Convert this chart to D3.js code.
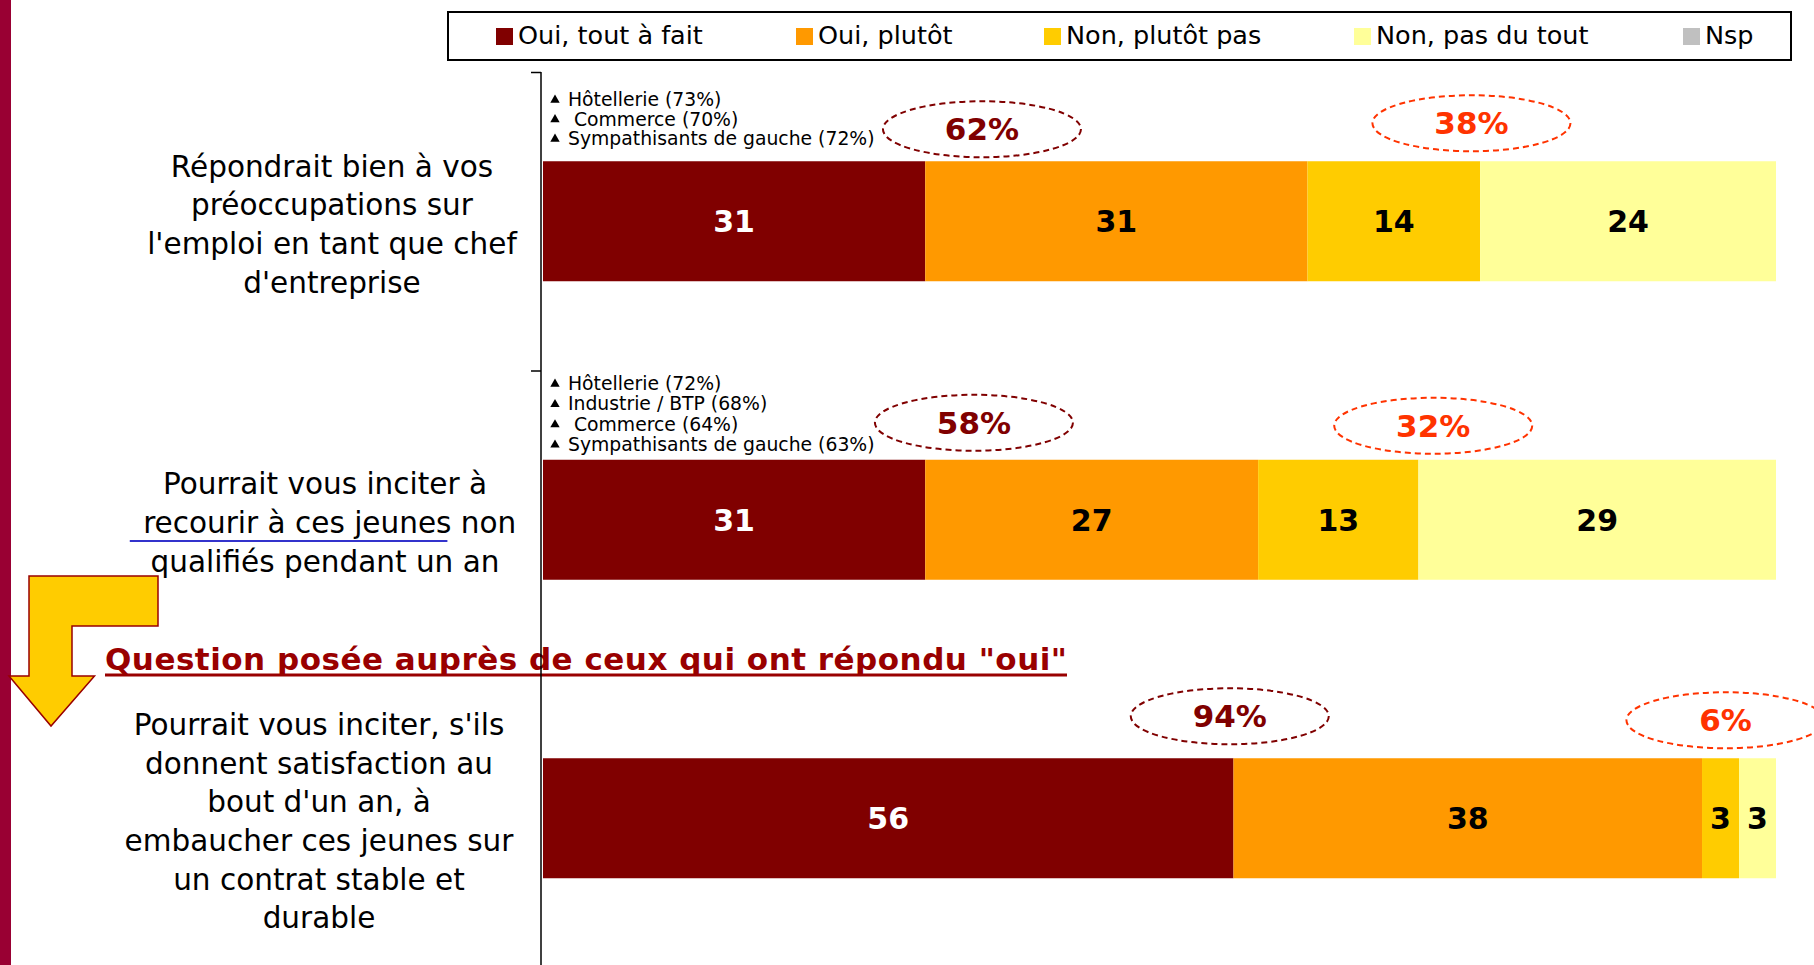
<!DOCTYPE html>
<html>
<head>
<meta charset="utf-8">
<script src="https://cdn.jsdelivr.net/npm/d3@7"></script>
<style>
  html, body { margin: 0; padding: 0; background: #fff; }
  svg { display: block; }
  text { font-family: "DejaVu Sans", Verdana, sans-serif; }
</style>
</head>
<body>
<svg id="chart" width="1814" height="965"></svg>
<script>
// ---------------- DATA ----------------
const categories = [
  "Répondrait bien à vos\npréoccupations sur\nl'emploi en tant que chef\nd'entreprise",
  "Pourrait vous inciter à\n recourir à ces jeunes non\nqualifiés pendant un an",
  "Pourrait vous inciter, s'ils\ndonnent satisfaction au\nbout d'un an, à\nembaucher ces jeunes sur\nun contrat stable et\ndurable"
];
const seriesNames = ["Oui, tout à fait", "Oui, plutôt", "Non, plutôt pas", "Non, pas du tout", "Nsp"];
const ouiToutAFait = [31, 31, 56];
const ouiPlutot    = [31, 27, 38];
const nonPlutotPas = [14, 13, 3];
const nonPasDuTout = [24, 29, 3];
const nsp          = [0, 0, 0];
const totalOui = [62, 58, 94];
const totalNon = [38, 32, 6];
const highlights = [
  ["Hôtellerie (73%)", " Commerce (70%)", "Sympathisants de gauche (72%)"],
  ["Hôtellerie (72%)", "Industrie / BTP (68%)", " Commerce (64%)", "Sympathisants de gauche (63%)"],
  []
];
const subQuestion = "Question posée auprès de ceux qui ont répondu \"oui\"";
const underlinedPhrase = " recourir à ces jeunes";

// ---------------- STYLE / LAYOUT ----------------
const colors = ["#800000", "#FF9900", "#FFCC00", "#FFFF99", "#C0C0C0"];
const ouiColor = "#800000", nonColor = "#FF3300";
const svg = d3.select("#chart");

const x = d3.scaleLinear().domain([0, 100]).range([543, 1776]);
const y = d3.scaleBand().domain(d3.range(categories.length))
  .range([72, 967.5]).paddingInner(0.598).paddingOuter(0.299);

// build table
const table = categories.map((c, i) => ({
  idx: i,
  [seriesNames[0]]: ouiToutAFait[i],
  [seriesNames[1]]: ouiPlutot[i],
  [seriesNames[2]]: nonPlutotPas[i],
  [seriesNames[3]]: nonPasDuTout[i],
  [seriesNames[4]]: nsp[i]
}));
const stacked = d3.stack().keys(seriesNames)(table);

// left crimson stripe
svg.append("rect").attr("x", 0).attr("y", 0).attr("width", 11).attr("height", 965).attr("fill", "#990033");

// legend box
const lg = svg.append("g");
lg.append("rect").attr("x", 448).attr("y", 12).attr("width", 1343).attr("height", 48)
  .attr("fill", "#fff").attr("stroke", "#000").attr("stroke-width", 2);
const legendX = [496, 796, 1044, 1354, 1683];
seriesNames.forEach((s, i) => {
  lg.append("rect").attr("x", legendX[i]).attr("y", 28).attr("width", 17).attr("height", 17).attr("fill", colors[i]);
  lg.append("text").attr("x", legendX[i] + 22).attr("y", 44).attr("font-size", 25.5).attr("fill", "#000").text(s);
});

// bars
const layers = svg.append("g").selectAll("g").data(stacked).join("g").attr("fill", (d, i) => colors[i]);
layers.selectAll("rect").data(d => d).join("rect")
  .attr("x", d => x(d[0])).attr("y", d => y(d.data.idx))
  .attr("width", d => x(d[1]) - x(d[0])).attr("height", y.bandwidth());

// values
stacked.forEach((layer, li) => {
  svg.append("g").selectAll("text").data(layer.filter(d => d[1] - d[0] > 0)).join("text")
    .attr("x", d => (x(d[0]) + x(d[1])) / 2)
    .attr("y", d => y(d.data.idx) + y.bandwidth() / 2)
    .attr("dy", "0.36em").attr("text-anchor", "middle")
    .attr("font-size", 30).attr("font-weight", "bold")
    .attr("fill", li === 0 ? "#fff" : "#000")
    .text(d => d[1] - d[0]);
});

// sub-question title
const titleW = 962;
svg.append("text").attr("x", 105).attr("y", 670)
  .attr("font-size", 31).attr("font-weight", "bold").attr("fill", "#990000")
  .attr("textLength", titleW).attr("lengthAdjust", "spacing").text(subQuestion);
svg.append("line").attr("x1", 105).attr("x2", 105 + titleW).attr("y1", 675).attr("y2", 675)
  .attr("stroke", "#990000").attr("stroke-width", 3);

// axis (band boundaries)
const yb = d3.scaleLinear().domain([0, categories.length]).range([72, 967.5]);
const axis = svg.append("g").attr("transform", "translate(541,0)")
  .call(d3.axisLeft(yb).tickValues([0, 1]).tickFormat("").tickSize(10).tickSizeOuter(0));
axis.select(".domain").attr("d", "M0,72V965").attr("stroke", "#000").attr("stroke-width", 1.5);
axis.selectAll(".tick line").attr("stroke", "#000").attr("stroke-width", 1.5);

// category labels
const labelCx = [332, 325, 319];
const lh = 38.7, lfs = 29.5;
categories.forEach((c, i) => {
  const lines = c.split("\n");
  const cy = y(i) + y.bandwidth() / 2 + 3;
  const t = svg.append("text").attr("text-anchor", "middle").attr("font-size", lfs).attr("fill", "#000")
    .style("white-space", "pre");
  lines.forEach((ln, j) => {
    const ty = cy + (j - (lines.length - 1) / 2) * lh + 0.35 * lfs;
    t.append("tspan").attr("x", labelCx[i]).attr("y", ty).text(ln);
    if (underlinedPhrase && ln.indexOf(underlinedPhrase) === 0) {
      const tmp = svg.append("text").attr("font-size", lfs).style("white-space", "pre").text(ln);
      const full = tmp.node().getComputedTextLength();
      tmp.text(underlinedPhrase);
      const part = tmp.node().getComputedTextLength();
      tmp.remove();
      const x0 = labelCx[i] - full / 2;
      svg.append("line").attr("x1", x0 - 4).attr("x2", x0 + part - 4).attr("y1", ty + 8).attr("y2", ty + 8)
        .attr("stroke", "#3333CC").attr("stroke-width", 2);
    }
  });
});

// highlights (sub-groups)
const hlFirstBaseline = [106, 390];
const hlStep = [19.5, 20.3];
highlights.forEach((list, i) => {
  list.forEach((h, j) => {
    const by = hlFirstBaseline[i] + j * hlStep[i];
    svg.append("path").attr("d", d3.symbol(d3.symbolTriangle, 38)())
      .attr("transform", `translate(${555},${by - 6})`).attr("fill", "#000");
    svg.append("text").attr("x", 568).attr("y", by).attr("font-size", 18.8).attr("fill", "#000")
      .style("white-space", "pre").text(h);
  });
});

// callouts (dashed ellipses with totals)
const callouts = [
  { cat: 0, at: 35.6, dy: -32, v: totalOui[0], c: ouiColor },
  { cat: 0, at: 75.3, dy: -38, v: totalNon[0], c: nonColor },
  { cat: 1, at: 34.95, dy: -37, v: totalOui[1], c: ouiColor },
  { cat: 1, at: 72.2, dy: -34, v: totalNon[1], c: nonColor },
  { cat: 2, at: 55.7, dy: -42, v: totalOui[2], c: ouiColor },
  { cat: 2, at: 95.9, dy: -38, v: totalNon[2], c: nonColor }
];
callouts.forEach(d => {
  const cx = x(d.at), cy = y(d.cat) + d.dy;
  svg.append("ellipse").attr("cx", cx).attr("cy", cy).attr("rx", 99).attr("ry", 28)
    .attr("fill", "none").attr("stroke", d.c).attr("stroke-width", 2).attr("stroke-dasharray", "6,4");
  svg.append("text").attr("x", cx).attr("y", cy).attr("dy", "0.36em").attr("text-anchor", "middle")
    .attr("font-size", 31).attr("font-weight", "bold").attr("fill", d.c).text(d.v + "%");
});

// yellow L-shaped arrow
const arrowPts = [[29, 576], [158, 576], [158, 626], [72, 626], [72, 676], [94.5, 676], [51, 726], [9, 676], [29, 676]];
svg.append("path").attr("d", d3.line()(arrowPts) + "Z")
  .attr("fill", "#FFCC00").attr("stroke", "#990000").attr("stroke-width", 1.5).attr("stroke-linejoin", "miter");
</script>
</body>
</html>
